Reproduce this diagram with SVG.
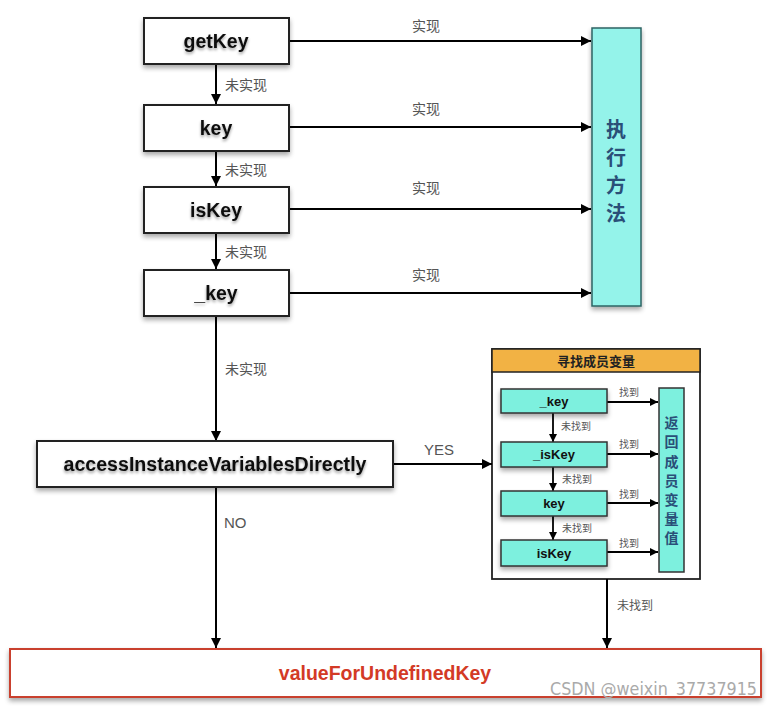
<svg xmlns="http://www.w3.org/2000/svg" width="770" height="706" viewBox="0 0 770 706">
<defs>
<marker id="ah" viewBox="0 0 10 10" refX="10" refY="5" markerWidth="10" markerHeight="10" markerUnits="userSpaceOnUse" orient="auto"><path d="M0,0 L10,5 L0,10 z" fill="#000"/></marker>
<marker id="ahs" viewBox="0 0 10 10" refX="10" refY="5" markerWidth="8" markerHeight="8" markerUnits="userSpaceOnUse" orient="auto"><path d="M0,0 L10,5 L0,10 z" fill="#000"/></marker>
<filter id="sh" x="-10%" y="-20%" width="120%" height="160%"><feGaussianBlur in="SourceAlpha" stdDeviation="2.5"/><feOffset dx="0" dy="3"/><feComponentTransfer><feFuncA type="linear" slope="0.35"/></feComponentTransfer><feMerge><feMergeNode/><feMergeNode in="SourceGraphic"/></feMerge></filter>
<filter id="tsh" x="-10%" y="-30%" width="120%" height="180%"><feGaussianBlur in="SourceAlpha" stdDeviation="1.5"/><feOffset dx="0" dy="2"/><feComponentTransfer><feFuncA type="linear" slope="0.4"/></feComponentTransfer><feMerge><feMergeNode/><feMergeNode in="SourceGraphic"/></feMerge></filter>
</defs>
<style>
.box{fill:#fff;stroke:#222;stroke-width:2}
.t{font-family:"Liberation Sans",Arial,sans-serif;font-weight:bold;fill:#111;text-anchor:middle}
.big{font-size:19.5px}
.lbl{font-family:"Noto Sans CJK SC","Liberation Sans",sans-serif;font-size:14px;fill:#555}
.en{font-family:"Liberation Sans",Arial,sans-serif;font-size:15px;fill:#555}
.sm{font-family:"Noto Sans CJK SC","Liberation Sans",sans-serif;font-size:10px;fill:#555}
.ln{stroke:#000;stroke-width:2;fill:none}
.lns{stroke:#000;stroke-width:1.8;fill:none}
.cy{fill:#7df0de;stroke:#333;stroke-width:1.5}
.cjkb{font-family:"Noto Sans CJK SC",sans-serif;font-weight:bold;text-anchor:middle}
</style>
<rect width="770" height="706" fill="#fff"/>

<g id="memberGroup">
<rect x="492" y="349" width="208" height="230" fill="#fff" stroke="#222" stroke-width="1.8"/>
<rect x="492" y="349" width="208" height="23" fill="#f2b244" stroke="#222" stroke-width="1.5"/>
<text class="cjkb" x="596" y="366" font-size="13" fill="#222" font-weight="normal">寻找成员变量</text>
</g>

<g id="connectors">
<line class="ln" x1="289" y1="41" x2="591" y2="41" marker-end="url(#ah)"/>
<line class="ln" x1="289" y1="127" x2="591" y2="127" marker-end="url(#ah)"/>
<line class="ln" x1="289" y1="209" x2="591" y2="209" marker-end="url(#ah)"/>
<line class="ln" x1="289" y1="293" x2="591" y2="293" marker-end="url(#ah)"/>
<line class="ln" x1="216" y1="64" x2="216" y2="104" marker-end="url(#ah)"/>
<line class="ln" x1="216" y1="151" x2="216" y2="186" marker-end="url(#ah)"/>
<line class="ln" x1="216" y1="233" x2="216" y2="269" marker-end="url(#ah)"/>
<line class="ln" x1="216" y1="316" x2="216" y2="441" marker-end="url(#ah)"/>
<line class="ln" x1="393" y1="464" x2="492" y2="464" marker-end="url(#ah)"/>
<line class="ln" x1="216" y1="487" x2="216" y2="648" marker-end="url(#ah)"/>
<line class="ln" x1="607" y1="579" x2="607" y2="648" marker-end="url(#ah)"/>
<line class="lns" x1="607" y1="402" x2="658" y2="402" marker-end="url(#ahs)"/>
<line class="lns" x1="607" y1="454" x2="658" y2="454" marker-end="url(#ahs)"/>
<line class="lns" x1="607" y1="503" x2="658" y2="503" marker-end="url(#ahs)"/>
<line class="lns" x1="607" y1="552" x2="658" y2="552" marker-end="url(#ahs)"/>
<line class="lns" x1="553" y1="413" x2="553" y2="442" marker-end="url(#ahs)"/>
<line class="lns" x1="553" y1="467" x2="553" y2="491" marker-end="url(#ahs)"/>
<line class="lns" x1="553" y1="516" x2="553" y2="540" marker-end="url(#ahs)"/>
<text class="lbl" x="426" y="31" text-anchor="middle">实现</text>
<text class="lbl" x="426" y="114" text-anchor="middle">实现</text>
<text class="lbl" x="426" y="193" text-anchor="middle">实现</text>
<text class="lbl" x="426" y="280" text-anchor="middle">实现</text>
<text class="lbl" x="225" y="90">未实现</text>
<text class="lbl" x="225" y="175">未实现</text>
<text class="lbl" x="225" y="257">未实现</text>
<text class="lbl" x="225" y="374">未实现</text>
<text class="en" x="424" y="455">YES</text>
<text class="en" x="224" y="528">NO</text>
<text class="lbl" x="617" y="610" style="font-size:12px">未找到</text>
<text class="sm" x="619" y="396">找到</text>
<text class="sm" x="619" y="448">找到</text>
<text class="sm" x="619" y="498">找到</text>
<text class="sm" x="619" y="547">找到</text>
<text class="sm" x="561" y="430">未找到</text>
<text class="sm" x="562" y="483">未找到</text>
<text class="sm" x="562" y="532">未找到</text>
</g>

<g id="getKey"><rect class="box" x="144" y="18" width="145" height="46" filter="url(#sh)"/><text class="t big" x="216" y="48" filter="url(#tsh)">getKey</text></g>
<g id="key"><rect class="box" x="144" y="105" width="145" height="46" filter="url(#sh)"/><text class="t big" x="216" y="135" filter="url(#tsh)">key</text></g>
<g id="isKey"><rect class="box" x="144" y="187" width="145" height="46" filter="url(#sh)"/><text class="t big" x="216" y="217" filter="url(#tsh)">isKey</text></g>
<g id="_key"><rect class="box" x="144" y="270" width="145" height="46" filter="url(#sh)"/><text class="t big" x="216" y="300" filter="url(#tsh)">_key</text></g>

<g id="exec"><rect x="592" y="28" width="49" height="278" fill="#94f3ea" stroke="#2d6464" stroke-width="1.5" filter="url(#sh)"/>
<text class="cjkb" x="616" y="137" font-size="20" fill="#2a4f78">执</text>
<text class="cjkb" x="616" y="165" font-size="20" fill="#2a4f78">行</text>
<text class="cjkb" x="616" y="193" font-size="20" fill="#2a4f78">方</text>
<text class="cjkb" x="616" y="221" font-size="20" fill="#2a4f78">法</text></g>

<g id="access"><rect class="box" x="37" y="441" width="356" height="46" filter="url(#sh)"/><text class="t big" x="215" y="471" textLength="303" lengthAdjust="spacingAndGlyphs" filter="url(#tsh)">accessInstanceVariablesDirectly</text></g>

<g id="m_key"><rect class="cy" x="501" y="389" width="106" height="24" filter="url(#sh)"/><text class="t" x="554" y="406" font-size="13">_key</text></g>
<g id="m_isKey"><rect class="cy" x="501" y="442" width="106" height="25" filter="url(#sh)"/><text class="t" x="554" y="459" font-size="13">_isKey</text></g>
<g id="m_key2"><rect class="cy" x="501" y="491" width="106" height="25" filter="url(#sh)"/><text class="t" x="554" y="508" font-size="13">key</text></g>
<g id="m_isKey2"><rect class="cy" x="501" y="540" width="106" height="26" filter="url(#sh)"/><text class="t" x="554" y="558" font-size="13">isKey</text></g>
<g id="returnVal"><rect class="cy" x="659" y="388" width="25" height="184"/>
<text class="cjkb" x="671.5" y="428" font-size="14" fill="#2a4f78">返</text>
<text class="cjkb" x="671.5" y="447" font-size="14" fill="#2a4f78">回</text>
<text class="cjkb" x="671.5" y="467" font-size="14" fill="#2a4f78">成</text>
<text class="cjkb" x="671.5" y="486" font-size="14" fill="#2a4f78">员</text>
<text class="cjkb" x="671.5" y="505" font-size="14" fill="#2a4f78">变</text>
<text class="cjkb" x="671.5" y="524" font-size="14" fill="#2a4f78">量</text>
<text class="cjkb" x="671.5" y="543" font-size="14" fill="#2a4f78">值</text></g>

<g id="undefined"><rect x="10" y="649" width="751" height="48" fill="#fff" stroke="#c9402e" stroke-width="2" filter="url(#sh)"/><text class="t" x="385" y="680" font-size="19.5" style="fill:#d33a26">valueForUndefinedKey</text></g>
<text x="757" y="695" text-anchor="end" font-family="'DejaVu Sans Condensed','Liberation Sans',sans-serif" font-size="17" fill="#aaa" textLength="207" lengthAdjust="spacingAndGlyphs">CSDN @weixin_37737915</text>
</svg>
